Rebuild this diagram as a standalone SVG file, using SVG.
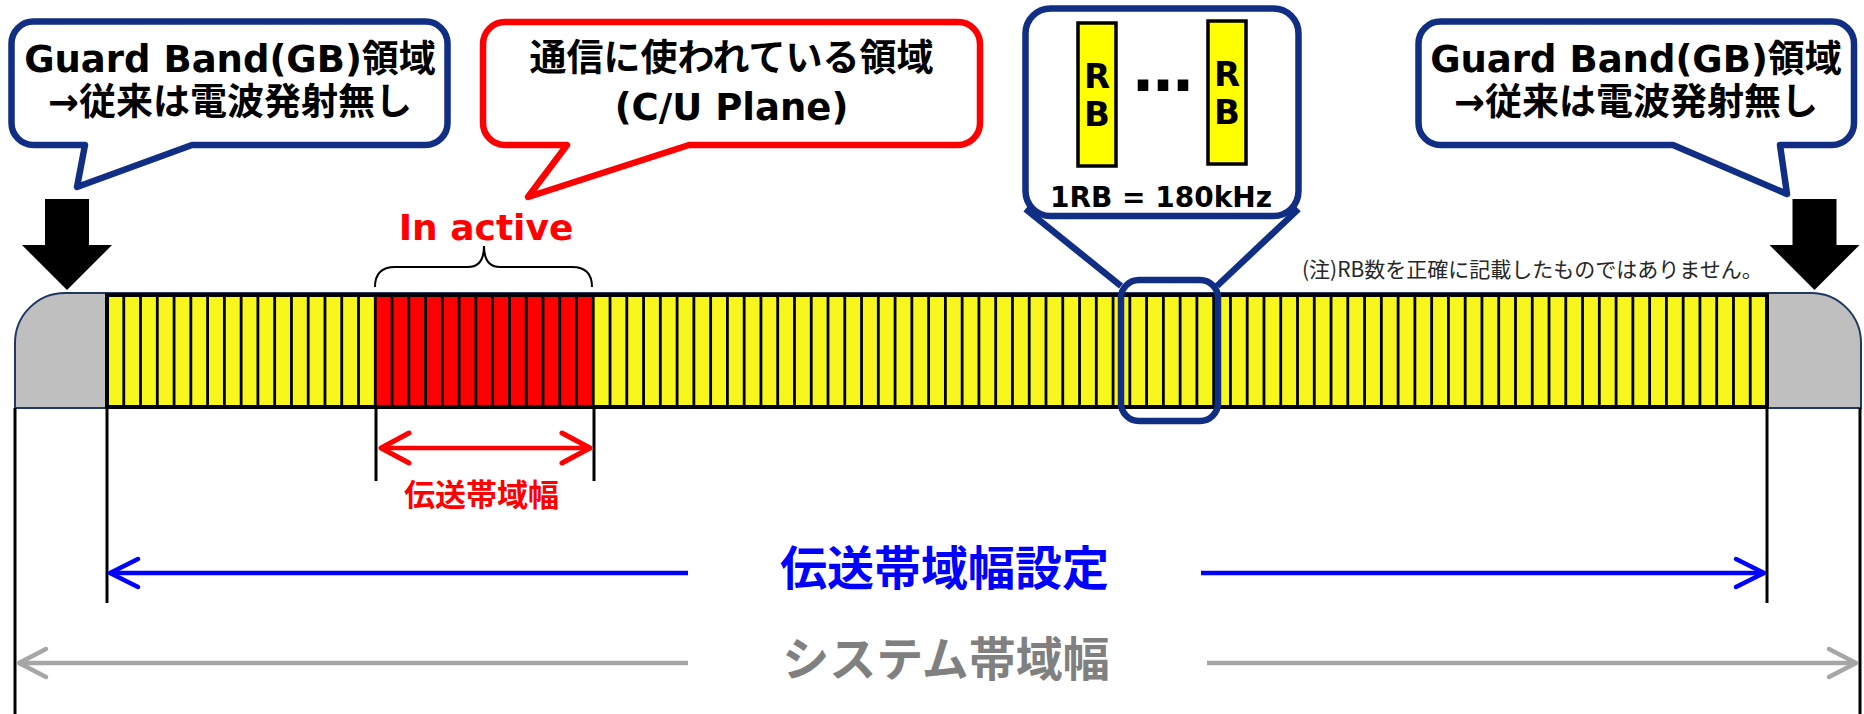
<svg xmlns="http://www.w3.org/2000/svg" width="1864" height="714" viewBox="0 0 1864 714">
<style>
.cs{fill:#fff;stroke:#112e85;stroke-width:6.5;stroke-linejoin:round}
.cr{fill:#fff;stroke:#ff0000;stroke-width:6.5;stroke-linejoin:round}
.nv{fill:none;stroke:#112e85;stroke-width:6.5;stroke-linejoin:round}
.t{font-family:"DejaVu Sans","Noto Sans CJK JP",sans-serif;font-weight:bold;text-anchor:middle}
.j{font-family:"Noto Sans CJK JP",sans-serif;font-weight:bold;text-anchor:middle}
.vl{stroke:#000;stroke-width:3}
.rb{fill:#ffff00;stroke:#000;stroke-width:3.5}
</style>
<defs>
<marker id="mr" viewBox="-34 -18 38 36" refX="0" refY="0" markerWidth="38" markerHeight="36" markerUnits="userSpaceOnUse" orient="auto-start-reverse"><path d="M-28,-15 L0,0 L-28,15" fill="none" stroke="#ff0000" stroke-width="5" stroke-linecap="round" stroke-linejoin="round"/></marker>
<marker id="mb" viewBox="-34 -18 38 36" refX="0" refY="0" markerWidth="38" markerHeight="36" markerUnits="userSpaceOnUse" orient="auto-start-reverse"><path d="M-28,-14 L0,0 L-28,14" fill="none" stroke="#0000ff" stroke-width="4.5" stroke-linecap="round" stroke-linejoin="round"/></marker>
<marker id="mg" viewBox="-34 -18 38 36" refX="0" refY="0" markerWidth="38" markerHeight="36" markerUnits="userSpaceOnUse" orient="auto-start-reverse"><path d="M-27,-14 L0,0 L-27,14" fill="none" stroke="#a6a6a6" stroke-width="4.5" stroke-linecap="round" stroke-linejoin="round"/></marker>
<polygon id="down" points="-22,199 22,199 22,245 45,245 0,290 -45,245 -22,245"/>
</defs>

<g id="band">
<path d="M15,408 V343 A50,50 0 0 1 65,293 H1811 A50,50 0 0 1 1861,343 V408 Z" fill="#bfbfbf" stroke="#1f3864" stroke-width="2"/>
<rect x="107" y="295" width="1660" height="112" fill="#f7f71e"/>
<rect x="375.3" y="295" width="218" height="112" fill="#ff0000"/>
<line x1="105.6" y1="351" x2="1768.4" y2="351" stroke="#000" stroke-width="112" stroke-dasharray="2.8 13.9677"/>
<rect x="107" y="295" width="1660" height="112" fill="none" stroke="#000" stroke-width="4"/>
</g>

<g id="gb-left">
<path class="cs" d="M33.5,21.5 H425.5 A22,22 0 0 1 447.5,43.5 V123 A22,22 0 0 1 425.5,145 H192 L77,187 L85,145 H33.5 A22,22 0 0 1 11.5,123 V43.5 A22,22 0 0 1 33.5,21.5 Z"/>
<text class="t" x="230" y="72" font-size="37">Guard Band(GB)領域</text>
<text class="t" x="230" y="115" font-size="37">→従来は電波発射無し</text>
<use href="#down" x="67" y="0"/>
</g>

<g id="gb-right">
<path class="cs" d="M1440.5,21.5 H1832 A22,22 0 0 1 1854,43.5 V123 A22,22 0 0 1 1832,145 H1780 L1787,194 L1673,145 H1440.5 A22,22 0 0 1 1418.5,123 V43.5 A22,22 0 0 1 1440.5,21.5 Z"/>
<text class="t" x="1636" y="72" font-size="37">Guard Band(GB)領域</text>
<text class="t" x="1636" y="115" font-size="37">→従来は電波発射無し</text>
<use href="#down" x="1814.5" y="0"/>
</g>

<g id="cu-plane">
<path class="cr" d="M505,22 H958 A22,22 0 0 1 980,44 V123 A22,22 0 0 1 958,145 H689 L528,197 L567,145 H505 A22,22 0 0 1 483,123 V44 A22,22 0 0 1 505,22 Z"/>
<text class="t" x="731.5" y="71" font-size="37">通信に使われている領域</text>
<text class="t" x="731.5" y="120" font-size="37">(C/U Plane)</text>
</g>

<g id="rb-detail">
<rect class="cs" x="1025.5" y="8.5" width="273" height="207.5" rx="25"/>
<line class="nv" x1="1025.5" y1="209" x2="1121" y2="286"/>
<line class="nv" x1="1298.5" y1="209" x2="1217" y2="286"/>
<rect class="nv" x="1121" y="280" width="97" height="141" rx="18"/>
<rect class="rb" x="1078" y="23" width="38" height="143"/>
<rect class="rb" x="1208" y="21" width="38" height="143"/>
<text class="t" x="1097" y="88" font-size="34">R</text>
<text class="t" x="1097" y="126" font-size="34">B</text>
<text class="t" x="1227" y="86" font-size="34">R</text>
<text class="t" x="1227" y="124" font-size="34">B</text>
<text class="t" x="1163" y="91" font-size="60">…</text>
<text class="t" x="1161" y="207" font-size="28">1RB = 180kHz</text>
</g>

<g id="note">
<text x="1302" y="277" font-size="21" fill="#262626" font-family="Noto Sans CJK JP, sans-serif">(注)RB数を正確に記載したものではありません。</text>
</g>

<g id="in-active">
<text class="t" x="486" y="240" font-size="36" fill="#ff0000">In active</text>
<path d="M375,287 Q375,267 395,267 H468 Q484,267 484,246 Q484,267 500,267 H572 Q592,267 592,287" fill="none" stroke="#000" stroke-width="2"/>
</g>

<g id="connectors">
<line class="vl" x1="15" y1="408" x2="15" y2="714"/>
<line class="vl" x1="107" y1="408" x2="107" y2="603"/>
<line class="vl" x1="1767" y1="408" x2="1767" y2="603"/>
<line class="vl" x1="1860" y1="408" x2="1860" y2="714"/>
<line class="vl" x1="376" y1="408" x2="376" y2="481"/>
<line class="vl" x1="594" y1="408" x2="594" y2="481"/>
<line x1="381" y1="448" x2="590" y2="448" stroke="#ff0000" stroke-width="4.5" marker-start="url(#mr)" marker-end="url(#mr)"/>
<line x1="110" y1="573" x2="688" y2="573" stroke="#0000ff" stroke-width="4.5" marker-start="url(#mb)"/>
<line x1="1201" y1="573" x2="1764" y2="573" stroke="#0000ff" stroke-width="4.5" marker-end="url(#mb)"/>
<line x1="19" y1="663" x2="688" y2="663" stroke="#a6a6a6" stroke-width="4.5" marker-start="url(#mg)"/>
<line x1="1207" y1="663" x2="1856" y2="663" stroke="#a6a6a6" stroke-width="4.5" marker-end="url(#mg)"/>
</g>

<g id="labels">
<text class="j" x="481.5" y="506" font-size="31" fill="#ff0000">伝送帯域幅</text>
<text class="j" x="944.5" y="585" font-size="47" fill="#0000ff">伝送帯域幅設定</text>
<text class="j" x="946" y="676" font-size="47" fill="#808080">システム帯域幅</text>
</g>
</svg>
